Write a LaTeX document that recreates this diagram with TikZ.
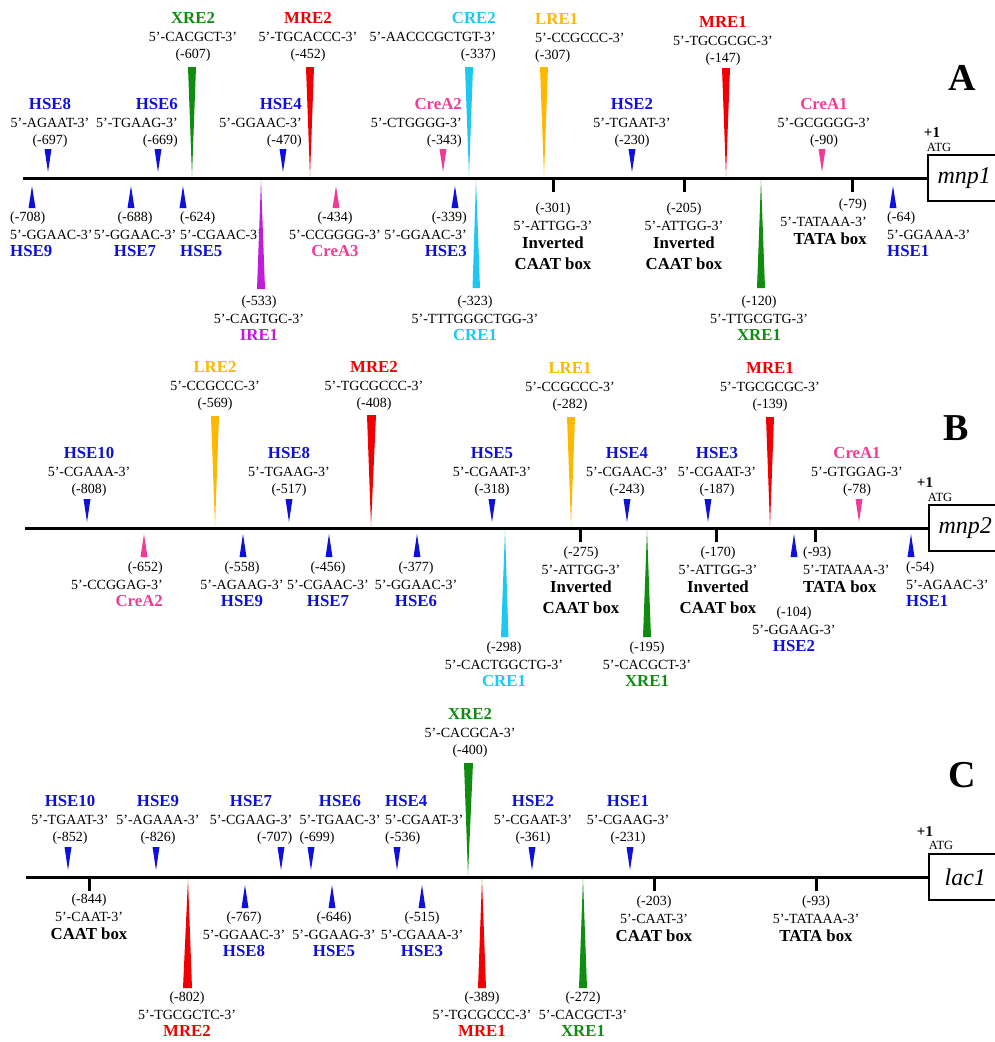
\documentclass[tikz,border=0pt]{standalone}
\usepackage{fontspec}
\setmainfont{Liberation Serif}
\newcommand\seqsize{\fontsize{14}{17.5}\selectfont}
\newcommand\sitelab[2]{\textcolor{#1}{\bfseries\fontsize{16.8}{17.5}\selectfont #2}}
\definecolor{hsecol}{RGB}{16,16,220}
\definecolor{mrecol}{RGB}{240,0,0}
\definecolor{xrecol}{RGB}{16,140,16}
\definecolor{crecol}{RGB}{30,200,240}
\definecolor{lrecol}{RGB}{255,184,0}
\definecolor{creacol}{RGB}{240,60,150}
\definecolor{irecol}{RGB}{190,30,220}
\begin{document}
\begin{tikzpicture}[x=1pt, y=-1pt,
  every node/.style={inner sep=0pt, font=\seqsize},
  sitetop/.style={anchor=south, align=center},
  sitebot/.style={anchor=north, align=center},
  axisline/.style={line width=3pt},
  tickmark/.style={line width=3pt},
  gene/.style={draw, line width=1.6pt, minimum width=73pt, minimum height=46pt, anchor=west, font=\itshape\fontsize{24}{24}\selectfont},
  panel/.style={font=\bfseries\fontsize{38}{38}\selectfont},
  plusone/.style={font=\bfseries\fontsize{15}{15}\selectfont},
  atg/.style={font=\fontsize{12.5}{12.5}\selectfont}]
\useasboundingbox (0,0) rectangle (995,1042);
% ---------- A: mnp1 ----------
\node[panel] (pA) at (962,78) {A};
\node[plusone] (pone1) at (932,133) {+1};
\node[atg] (atg1) at (939,147) {ATG};
\node[gene] (mnp1) at (927,178) {mnp1};
\draw[axisline] (23,178) -- (mnp1.west);
\draw[tickmark] (553,178) -- (553,192);
\draw[tickmark] (684,178) -- (684,192);
\draw[tickmark] (852,178) -- (852,192);
% upper side
\node[sitetop] (aXRE2) at (193,62) {\sitelab{xrecol}{XRE2}\\5’-CACGCT-3’\\(-607)};
\fill[xrecol] (188,67) -- (196,67) -- (192,176) -- cycle;
\node[sitetop] (aMRE2) at (308,62) {\sitelab{mrecol}{MRE2}\\5’-TGCACCC-3’\\(-452)};
\fill[mrecol] (306,67) -- (314,67) -- (310,176) -- cycle;
\node[sitetop, anchor=south east, align=right] (aCRE2) at (496,62) {\sitelab{crecol}{CRE2}\\5’-AACCCGCTGT-3’\\(-337)};
\fill[crecol] (465,67) -- (473,67) -- (469,176) -- cycle;
\node[sitetop, anchor=south west, align=left] (aLRE1) at (535,63) {\sitelab{lrecol}{LRE1}\\5’-CCGCCC-3’\\(-307)};
\fill[lrecol] (540,67) -- (548,67) -- (544,176) -- cycle;
\node[sitetop] (aMRE1) at (723,66) {\sitelab{mrecol}{MRE1}\\5’-TGCGCGC-3’\\(-147)};
\fill[mrecol] (722,68) -- (730,68) -- (726,176) -- cycle;
\node[sitetop] (aHSE8) at (50,148) {\sitelab{hsecol}{HSE8}\\5’-AGAAT-3’\\(-697)};
\fill[hsecol] (44.5,149) -- (51.5,149) -- (48,172) -- cycle;
\node[sitetop, anchor=south east, align=right] (aHSE6) at (178,148) {\sitelab{hsecol}{HSE6}\\5’-TGAAG-3’\\(-669)};
\fill[hsecol] (154.5,149) -- (161.5,149) -- (158,172) -- cycle;
\node[sitetop, anchor=south east, align=right] (aHSE4) at (302,148) {\sitelab{hsecol}{HSE4}\\5’-GGAAC-3’\\(-470)};
\fill[hsecol] (279.5,149) -- (286.5,149) -- (283,172) -- cycle;
\node[sitetop, anchor=south east, align=right] (aCreA2) at (462,148) {\sitelab{creacol}{CreA2}\\5’-CTGGGG-3’\\(-343)};
\fill[creacol] (439.5,149) -- (446.5,149) -- (443,172) -- cycle;
\node[sitetop] (aHSE2) at (632,148) {\sitelab{hsecol}{HSE2}\\5’-TGAAT-3’\\(-230)};
\fill[hsecol] (628.5,149) -- (635.5,149) -- (632,172) -- cycle;
\node[sitetop] (aCreA1) at (824,148) {\sitelab{creacol}{CreA1}\\5’-GCGGGG-3’\\(-90)};
\fill[creacol] (818.5,149) -- (825.5,149) -- (822,172) -- cycle;
% lower side
\node[sitebot, anchor=north west, align=left] (aHSE9) at (10,212) {(-708)\\5’-GGAAC-3’\\\sitelab{hsecol}{HSE9}};
\fill[hsecol] (28.5,208) -- (35.5,208) -- (32,186) -- cycle;
\node[sitebot] (aHSE7) at (135,212) {(-688)\\5’-GGAAC-3’\\\sitelab{hsecol}{HSE7}};
\fill[hsecol] (127.5,208) -- (134.5,208) -- (131,186) -- cycle;
\node[sitebot, anchor=north west, align=left] (aHSE5) at (180,212) {(-624)\\5’-CGAAC-3’\\\sitelab{hsecol}{HSE5}};
\fill[hsecol] (179.5,208) -- (186.5,208) -- (183,186) -- cycle;
\node[sitebot] (aIRE1) at (259,296) {(-533)\\5’-CAGTGC-3’\\\sitelab{irecol}{IRE1}};
\fill[irecol] (257,289) -- (265,289) -- (261,180) -- cycle;
\node[sitebot] (aCreA3) at (335,212) {(-434)\\5’-CCGGGG-3’\\\sitelab{creacol}{CreA3}};
\fill[creacol] (332.5,208) -- (339.5,208) -- (336,186) -- cycle;
\node[sitebot, anchor=north east, align=right] (aHSE3) at (467,212) {(-339)\\5’-GGAAC-3’\\\sitelab{hsecol}{HSE3}};
\fill[hsecol] (451.5,208) -- (458.5,208) -- (455,186) -- cycle;
\node[sitebot] (aCRE1) at (475,296) {(-323)\\5’-TTTGGGCTGG-3’\\\sitelab{crecol}{CRE1}};
\fill[crecol] (472.5,288) -- (480,288) -- (476,180) -- cycle;
\node[sitebot] (aCAAT1) at (553,203) {(-301)\\5’-ATTGG-3’\\[1pt]\sitelab{black}{Inverted}\\[3pt]\sitelab{black}{CAAT box}};
\node[sitebot] (aCAAT2) at (684,203) {(-205)\\5’-ATTGG-3’\\[1pt]\sitelab{black}{Inverted}\\[3pt]\sitelab{black}{CAAT box}};
\node[sitebot] (aXRE1) at (759,296) {(-120)\\5’-TTGCGTG-3’\\\sitelab{xrecol}{XRE1}};
\fill[xrecol] (757,288) -- (765,288) -- (761,180) -- cycle;
\node[sitebot, anchor=north east, align=right] (aTATA) at (867,199) {(-79)\\5’-TATAAA-3’\\[1pt]\sitelab{black}{TATA box}};
\node[sitebot, anchor=north west, align=left] (aHSE1) at (887,212) {(-64)\\5’-GGAAA-3’\\\sitelab{hsecol}{HSE1}};
\fill[hsecol] (889.5,208) -- (896.5,208) -- (893,186) -- cycle;
% ---------- B: mnp2 ----------
\node[panel] (pB) at (956,428) {B};
\node[plusone] (pone2) at (925,483) {+1};
\node[atg] (atg2) at (940,497) {ATG};
\node[gene] (mnp2) at (928,528) {mnp2};
\draw[axisline] (25,528) -- (mnp2.west);
\draw[tickmark] (580,528) -- (580,542);
\draw[tickmark] (716,528) -- (716,542);
\draw[tickmark] (815,528) -- (815,542);
% upper side
\node[sitetop] (bLRE2) at (215,411) {\sitelab{lrecol}{LRE2}\\5’-CCGCCC-3’\\(-569)};
\fill[lrecol] (211,416) -- (219,416) -- (215,526) -- cycle;
\node[sitetop] (bMRE2) at (374,411) {\sitelab{mrecol}{MRE2}\\5’-TGCGCCC-3’\\(-408)};
\fill[mrecol] (367,415) -- (376,415) -- (371,526) -- cycle;
\node[sitetop] (bLRE1) at (570,412) {\sitelab{lrecol}{LRE1}\\5’-CCGCCC-3’\\(-282)};
\fill[lrecol] (567,417) -- (575,417) -- (571,526) -- cycle;
\node[sitetop] (bMRE1) at (770,412) {\sitelab{mrecol}{MRE1}\\5’-TGCGCGC-3’\\(-139)};
\fill[mrecol] (766,417) -- (774,417) -- (770,526) -- cycle;
\node[sitetop] (bHSE10) at (89,497) {\sitelab{hsecol}{HSE10}\\5’-CGAAA-3’\\(-808)};
\fill[hsecol] (83.5,499) -- (90.5,499) -- (87,522) -- cycle;
\node[sitetop] (bHSE8) at (289,497) {\sitelab{hsecol}{HSE8}\\5’-TGAAG-3’\\(-517)};
\fill[hsecol] (285.5,499) -- (292.5,499) -- (289,522) -- cycle;
\node[sitetop] (bHSE5) at (492,497) {\sitelab{hsecol}{HSE5}\\5’-CGAAT-3’\\(-318)};
\fill[hsecol] (488.5,499) -- (495.5,499) -- (492,522) -- cycle;
\node[sitetop] (bHSE4) at (627,497) {\sitelab{hsecol}{HSE4}\\5’-CGAAC-3’\\(-243)};
\fill[hsecol] (623.5,499) -- (630.5,499) -- (627,522) -- cycle;
\node[sitetop] (bHSE3) at (717,497) {\sitelab{hsecol}{HSE3}\\5’-CGAAT-3’\\(-187)};
\fill[hsecol] (704.5,499) -- (711.5,499) -- (708,522) -- cycle;
\node[sitetop] (bCreA1) at (857,497) {\sitelab{creacol}{CreA1}\\5’-GTGGAG-3’\\(-78)};
\fill[creacol] (855.5,499) -- (862.5,499) -- (859,522) -- cycle;
% lower side
\node[sitebot, anchor=north east, align=right] (bCreA2) at (163,562) {(-652)\\5’-CCGGAG-3’\\\sitelab{creacol}{CreA2}};
\fill[creacol] (140.5,557) -- (147.5,557) -- (144,534) -- cycle;
\node[sitebot] (bHSE9) at (242,562) {(-558)\\5’-AGAAG-3’\\\sitelab{hsecol}{HSE9}};
\fill[hsecol] (239.5,557) -- (246.5,557) -- (243,534) -- cycle;
\node[sitebot] (bHSE7) at (328,562) {(-456)\\5’-CGAAC-3’\\\sitelab{hsecol}{HSE7}};
\fill[hsecol] (325.5,557) -- (332.5,557) -- (329,534) -- cycle;
\node[sitebot] (bHSE6) at (416,562) {(-377)\\5’-GGAAC-3’\\\sitelab{hsecol}{HSE6}};
\fill[hsecol] (413.5,557) -- (420.5,557) -- (417,534) -- cycle;
\node[sitebot] (bCRE1) at (504,642) {(-298)\\5’-CACTGGCTG-3’\\\sitelab{crecol}{CRE1}};
\fill[crecol] (501,637) -- (508.5,637) -- (505,530) -- cycle;
\node[sitebot] (bCAAT1) at (581,547) {(-275)\\5’-ATTGG-3’\\[1pt]\sitelab{black}{Inverted}\\[3pt]\sitelab{black}{CAAT box}};
\node[sitebot] (bXRE1) at (647,642) {(-195)\\5’-CACGCT-3’\\\sitelab{xrecol}{XRE1}};
\fill[xrecol] (643,637) -- (651,637) -- (647,530) -- cycle;
\node[sitebot] (bCAAT2) at (718,547) {(-170)\\5’-ATTGG-3’\\[1pt]\sitelab{black}{Inverted}\\[3pt]\sitelab{black}{CAAT box}};
\node[sitebot] (bHSE2) at (794,607) {(-104)\\5’-GGAAG-3’\\\sitelab{hsecol}{HSE2}};
\fill[hsecol] (790.5,557) -- (797.5,557) -- (794,534) -- cycle;
\node[sitebot, anchor=north west, align=left] (bTATA) at (803,547) {(-93)\\5’-TATAAA-3’\\[1pt]\sitelab{black}{TATA box}};
\node[sitebot, anchor=north west, align=left] (bHSE1) at (906,562) {(-54)\\5’-AGAAC-3’\\\sitelab{hsecol}{HSE1}};
\fill[hsecol] (907.5,557) -- (914.5,557) -- (911,534) -- cycle;
% ---------- C: lac1 ----------
\node[panel] (pC) at (962,775) {C};
\node[plusone] (pone3) at (925,832) {+1};
\node[atg] (atg3) at (941,845) {ATG};
\node[gene] (lac1) at (928,877) {lac1};
\draw[axisline] (26,877) -- (lac1.west);
\draw[tickmark] (89,877) -- (89,891);
\draw[tickmark] (654,877) -- (654,891);
\draw[tickmark] (816,877) -- (816,891);
% upper side
\node[sitetop] (cXRE2) at (470,758) {\sitelab{xrecol}{XRE2}\\5’-CACGCA-3’\\(-400)};
\fill[xrecol] (464,763) -- (473,763) -- (468,875) -- cycle;
\node[sitetop] (cHSE10) at (70,845) {\sitelab{hsecol}{HSE10}\\5’-TGAAT-3’\\(-852)};
\fill[hsecol] (64.5,847) -- (71.5,847) -- (68,870) -- cycle;
\node[sitetop] (cHSE9) at (158,845) {\sitelab{hsecol}{HSE9}\\5’-AGAAA-3’\\(-826)};
\fill[hsecol] (152.5,847) -- (159.5,847) -- (156,870) -- cycle;
\node[sitetop] (cHSE7) at (251,845) {\sitelab{hsecol}{HSE7}\\5’-CGAAG-3’\\\hfill(-707)};
\fill[hsecol] (277.5,847) -- (284.5,847) -- (281,870) -- cycle;
\node[sitetop] (cHSE6) at (340,845) {\sitelab{hsecol}{HSE6}\\5’-TGAAC-3’\\(-699)\hfill\null};
\fill[hsecol] (307.5,847) -- (314.5,847) -- (311,870) -- cycle;
\node[sitetop, anchor=south west, align=left] (cHSE4) at (385,845) {\sitelab{hsecol}{HSE4}\\5’-CGAAT-3’\\(-536)};
\fill[hsecol] (393.5,847) -- (400.5,847) -- (397,870) -- cycle;
\node[sitetop] (cHSE2) at (533,845) {\sitelab{hsecol}{HSE2}\\5’-CGAAT-3’\\(-361)};
\fill[hsecol] (528.5,847) -- (535.5,847) -- (532,870) -- cycle;
\node[sitetop] (cHSE1) at (628,845) {\sitelab{hsecol}{HSE1}\\5’-CGAAG-3’\\(-231)};
\fill[hsecol] (626.5,847) -- (633.5,847) -- (630,870) -- cycle;
% lower side
\node[sitebot] (cCAAT1) at (89,894) {(-844)\\5’-CAAT-3’\\[1pt]\sitelab{black}{CAAT box}};
\node[sitebot] (cMRE2) at (187,992) {(-802)\\5’-TGCGCTC-3’\\\sitelab{mrecol}{MRE2}};
\fill[mrecol] (183,988) -- (192,988) -- (188,879) -- cycle;
\node[sitebot] (cHSE8) at (244,912) {(-767)\\5’-GGAAC-3’\\\sitelab{hsecol}{HSE8}};
\fill[hsecol] (241.5,908) -- (248.5,908) -- (245,885) -- cycle;
\node[sitebot] (cHSE5) at (334,912) {(-646)\\5’-GGAAG-3’\\\sitelab{hsecol}{HSE5}};
\fill[hsecol] (328.5,908) -- (335.5,908) -- (332,885) -- cycle;
\node[sitebot] (cHSE3) at (422,912) {(-515)\\5’-CGAAA-3’\\\sitelab{hsecol}{HSE3}};
\fill[hsecol] (418.5,908) -- (425.5,908) -- (422,885) -- cycle;
\node[sitebot] (cMRE1) at (482,992) {(-389)\\5’-TGCGCCC-3’\\\sitelab{mrecol}{MRE1}};
\fill[mrecol] (478,988) -- (486,988) -- (482,879) -- cycle;
\node[sitebot] (cXRE1) at (583,992) {(-272)\\5’-CACGCT-3’\\\sitelab{xrecol}{XRE1}};
\fill[xrecol] (579,988) -- (587,988) -- (583,879) -- cycle;
\node[sitebot] (cCAAT2) at (654,896) {(-203)\\5’-CAAT-3’\\[1pt]\sitelab{black}{CAAT box}};
\node[sitebot] (cTATA) at (816,896) {(-93)\\5’-TATAAA-3’\\[1pt]\sitelab{black}{TATA box}};
\end{tikzpicture}
\end{document}
